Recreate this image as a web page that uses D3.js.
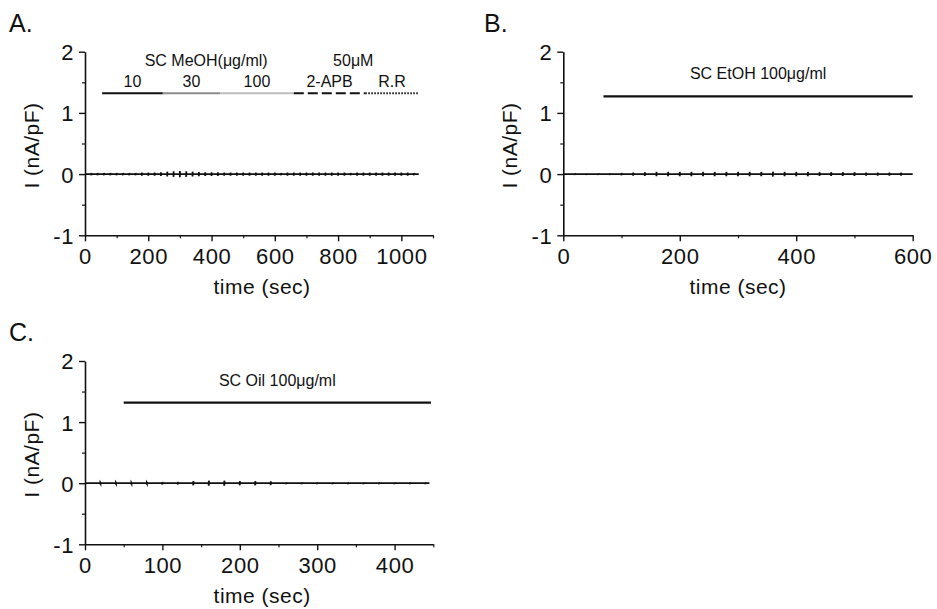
<!DOCTYPE html>
<html lang="en">
  <head>
    <meta charset="utf-8">
    <title>I (nA/pF) vs time</title>
    <script src="https://d3js.org/d3.v7.min.js"></script>
    <style>
      body { margin: 0; background: #fff; }
      svg text { font-family: "Liberation Sans", Arial, sans-serif; fill: #111; }
    </style>
  </head>
  <body>
    <div id="my_dataviz"></div>
    <script>
      // ramp spikes on the current trace: [time (sec), half amplitude (nA/pF)]
      const spikesA = [
        [20,0.02],[40,0.02],[60,0.02],[80,0.02],[100,0.02],[120,0.02],[140,0.02],[160,0.02],
        [180,0.025],[200,0.025],[220,0.025],[240,0.03],[260,0.04],[280,0.045],[300,0.05],[320,0.045],
        [340,0.04],[360,0.035],[380,0.03],[400,0.03],[420,0.03],[440,0.025],[460,0.025],[480,0.025],
        [500,0.025],[520,0.025],[540,0.025],[560,0.025],[580,0.025],[600,0.025],[620,0.02],[640,0.025],
        [660,0.025],[680,0.025],[700,0.025],[720,0.025],[740,0.025],[760,0.025],[780,0.025],[800,0.025],
        [820,0.025],[840,0.02],[860,0.025],[880,0.025],[900,0.025],[920,0.025],[940,0.025],[960,0.025],
        [980,0.025],[1000,0.025],[1020,0.025],[1040,0.02]
      ];
      const spikesB = [
        [20,0.015],[40,0.015],[60,0.015],[80,0.015],[100,0.02],[120,0.025],[140,0.03],[160,0.035],
        [180,0.035],[200,0.035],[220,0.035],[240,0.035],[260,0.035],[280,0.035],[300,0.035],[320,0.035],
        [340,0.035],[360,0.04],[380,0.035],[400,0.035],[420,0.035],[440,0.03],[460,0.03],[480,0.03],
        [500,0.03],[520,0.025],[540,0.025],[560,0.025],[580,0.025]
      ];
      const spikesC = [
        [20,0.01],[40,0.01],[60,0.01],[80,0.01],[100,0.02],[120,0.02],[140,0.035],[160,0.04],
        [180,0.04],[200,0.035],[220,0.035],[240,0.03],[260,0.015],[280,0.015],[300,0.015],[320,0.015],
        [340,0.015],[360,0.015],[380,0.015],[400,0.015],[420,0.015],[440,0.015]
      ];
      const traceEnd = {A: 1055, B: 600, C: 445};

      // application bars: start, end (sec), label
      const barsA = [
        {start: 54,  end: 246,  label: "10",    color: "#111", dash: null},
        {start: 246, end: 427,  label: "30",    color: "#8c8c8c", dash: null},
        {start: 427, end: 660,  label: "100",   color: "#bdbdbd", dash: null},
        {start: 660, end: 886,  label: "2-APB", color: "#111", dash: "10,4"},
        {start: 886, end: 1055, label: "R.R",   color: "#111", dash: "1.5,1.5"}
      ];
      const groupLabelsA = [
        {x: 383, label: "SC MeOH(\u03bcg/ml)"},
        {x: 848, label: "50\u03bcM"}
      ];
      const barsB = [{start: 69, end: 600, label: "SC EtOH 100\u03bcg/ml"}];
      const barsC = [{start: 50, end: 447, label: "SC Oil 100\u03bcg/ml"}];
      const barLevel = {A: 1.32, B: 1.27, C: 1.32};

      const yTicks = [-1, 0, 1, 2];
      const xTicksA = [0, 200, 400, 600, 800, 1000];
      const xTicksB = [0, 200, 400, 600];
      const xTicksC = [0, 100, 200, 300, 400];

      const svg = d3.select("#my_dataviz")
        .append("svg")
          .attr("width", 937)
          .attr("height", 609);

      const fmt = d => (d < 0 ? "-" : "") + Math.abs(d);

      function panel(opt) {
        const g = svg.append("g");
        const x = d3.scaleLinear().domain(opt.xDomain).range([opt.left, opt.right]);
        const y = d3.scaleLinear().domain([-1, 2]).range([opt.bottom, opt.top]);

        // minor ticks
        g.append("g")
          .attr("transform", `translate(0,${opt.bottom})`)
          .call(d3.axisBottom(x).tickValues(opt.xMinor).tickSize(3).tickFormat(""))
          .call(a => a.select(".domain").remove())
          .selectAll("line").attr("stroke", "#111").attr("stroke-width", 1.2);
        g.append("g")
          .attr("transform", `translate(${opt.left},0)`)
          .call(d3.axisLeft(y).tickValues([-0.5, 0.5, 1.5]).tickSize(3).tickFormat(""))
          .call(a => a.select(".domain").remove())
          .selectAll("line").attr("stroke", "#111").attr("stroke-width", 1.2);

        // major axes
        const xa = g.append("g")
          .attr("transform", `translate(0,${opt.bottom})`)
          .call(d3.axisBottom(x).tickValues(opt.xTicks).tickSize(6).tickSizeOuter(0).tickPadding(7).tickFormat(fmt));
        const ya = g.append("g")
          .attr("transform", `translate(${opt.left},0)`)
          .call(d3.axisLeft(y).tickValues(yTicks).tickSize(6).tickSizeOuter(0).tickPadding(5).tickFormat(fmt));
        [xa, ya].forEach(a => {
          a.select(".domain").attr("stroke", "#111").attr("stroke-width", 1.6);
          a.selectAll("line").attr("stroke", "#111").attr("stroke-width", 1.4);
          a.selectAll("text").attr("font-size", 22).attr("fill", "#111")
            .style("font-family", "'Liberation Sans', Arial, sans-serif")
            .style("letter-spacing", "0.6px");
        });
        ya.selectAll("text").attr("dy", "0.36em");

        // axis titles
        g.append("text")
          .attr("x", (opt.left + opt.right) / 2 + opt.titleShift)
          .attr("y", opt.bottom + 59)
          .attr("text-anchor", "middle")
          .attr("font-size", 21)
          .style("letter-spacing", "0.5px")
          .text("time (sec)");
        g.append("text")
          .attr("transform", `translate(${opt.left - 46},${(opt.top + opt.bottom) / 2 + 2}) rotate(-90)`)
          .attr("text-anchor", "middle")
          .attr("font-size", 21)
          .style("letter-spacing", "0.5px")
          .text("I (nA/pF)");

        // panel letter
        g.append("text")
          .attr("x", opt.letterX)
          .attr("y", opt.top - 20)
          .attr("font-size", 25)
          .text(opt.letter);

        // current trace
        const pts = [[0, 0]];
        opt.spikes.forEach(([t, a]) => {
          pts.push([t - 0.5, 0], [t, -a], [t, a], [t + 0.5, 0]);
        });
        pts.push([opt.end, 0]);
        g.append("path")
          .datum(pts)
          .attr("fill", "none")
          .attr("stroke", "#111")
          .attr("stroke-width", 1.8)
          .attr("d", d3.line().x(d => x(d[0])).y(d => y(d[1])));

        return {g, x, y};
      }

      // Panel A
      const pA = panel({letter: "A.", letterX: 9, left: 85, right: 433, top: 51.7, bottom: 235.3,
        xDomain: [0, 1100], xTicks: xTicksA, xMinor: d3.range(100, 1101, 200), titleShift: 3,
        spikes: spikesA, end: traceEnd.A});
      pA.g.selectAll(".bar")
        .data(barsA)
        .enter().append("line")
          .attr("x1", d => pA.x(d.start))
          .attr("x2", d => pA.x(d.end))
          .attr("y1", pA.y(barLevel.A))
          .attr("y2", pA.y(barLevel.A))
          .attr("stroke", d => d.color)
          .attr("stroke-width", 2)
          .attr("stroke-dasharray", d => d.dash);
      pA.g.selectAll(".barlab")
        .data(barsA)
        .enter().append("text")
          .attr("x", d => pA.x((d.start + d.end) / 2))
          .attr("y", pA.y(barLevel.A) - 6)
          .attr("text-anchor", "middle")
          .attr("font-size", 16)
          .text(d => d.label);
      pA.g.selectAll(".grplab")
        .data(groupLabelsA)
        .enter().append("text")
          .attr("x", d => pA.x(d.x))
          .attr("y", pA.y(barLevel.A) - 27)
          .attr("text-anchor", "middle")
          .attr("font-size", 16)
          .text(d => d.label);

      // Panel B
      const pB = panel({letter: "B.", letterX: 484, left: 563.3, right: 912.7, top: 51.7, bottom: 235.3,
        xDomain: [0, 600], xTicks: xTicksB, xMinor: d3.range(100, 601, 200), titleShift: 0,
        spikes: spikesB, end: traceEnd.B});
      // Panel C
      const pC = panel({letter: "C.", letterX: 9, left: 85, right: 433.3, top: 361, bottom: 544.3,
        xDomain: [0, 450], xTicks: xTicksC, xMinor: d3.range(50, 451, 100), titleShift: 3,
        spikes: spikesC, end: traceEnd.C});

      [[pB, barsB, barLevel.B], [pC, barsC, barLevel.C]].forEach(([p, bars, lvl]) => {
        p.g.selectAll(".bar")
          .data(bars)
          .enter().append("line")
            .attr("x1", d => p.x(d.start))
            .attr("x2", d => p.x(d.end))
            .attr("y1", p.y(lvl))
            .attr("y2", p.y(lvl))
            .attr("stroke", "#111")
            .attr("stroke-width", 2.2);
        p.g.selectAll(".barlab")
          .data(bars)
          .enter().append("text")
            .attr("x", d => p.x((d.start + d.end) / 2))
            .attr("y", p.y(lvl) - 17)
            .attr("text-anchor", "middle")
            .attr("font-size", 16)
            .text(d => d.label);
      });
    </script>
  </body>
</html>
